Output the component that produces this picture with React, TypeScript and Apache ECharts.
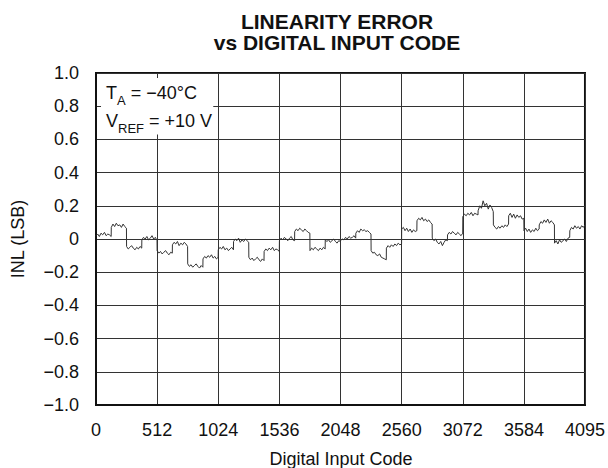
import React, { useEffect, useRef } from 'react';
import * as echarts from 'echarts';

const titleLines = ['LINEARITY ERROR', 'vs DIGITAL INPUT CODE'];
const xAxisTitle = 'Digital Input Code';
const yAxisTitle = 'INL (LSB)';
const conditionLines = [
  ['T', 'A', ' = \u221240\u00B0C'],
  ['V', 'REF', ' = +10 V'],
];

const xMin = 0;
const xMax = 4095;
const xStep = 512;
const yMin = -1;
const yMax = 1;
const yStep = 0.2;

const segmentStarts = [
  0, 128, 256, 384, 512, 640, 768, 896, 1024, 1152, 1280, 1408, 1536, 1664, 1792, 1920,
  2048, 2176, 2304, 2432, 2560, 2688, 2816, 2944, 3072, 3200, 3328, 3456, 3584, 3712, 3840, 3968,
];
const sampleOffsets = [0, 14, 28, 42, 56, 71, 85, 99, 113, 127];
const inlBySegment = [
  [0.02, 0.03, 0.015, 0.035, 0.025, 0.04, 0.02, 0.03, 0.025, 0.015],
  [0.07, 0.09, 0.075, 0.095, 0.08, 0.085, 0.07, 0.09, 0.075, 0.065],
  [-0.045, -0.06, -0.05, -0.04, -0.055, -0.065, -0.05, -0.06, -0.045, -0.055],
  [-0.005, 0.01, 0.0, 0.015, -0.005, 0.005, 0.02, 0.0, 0.01, -0.01],
  [-0.07, -0.085, -0.075, -0.09, -0.08, -0.07, -0.085, -0.095, -0.08, -0.085],
  [-0.035, -0.02, -0.03, -0.015, -0.04, -0.025, -0.035, -0.02, -0.03, -0.045],
  [-0.15, -0.165, -0.155, -0.17, -0.16, -0.15, -0.165, -0.175, -0.16, -0.17],
  [-0.12, -0.105, -0.115, -0.1, -0.11, -0.095, -0.115, -0.105, -0.12, -0.11],
  [-0.065, -0.05, -0.06, -0.045, -0.065, -0.055, -0.07, -0.06, -0.05, -0.065],
  [-0.015, 0.0, -0.01, 0.005, -0.02, -0.005, -0.015, 0.0, -0.01, -0.02],
  [-0.11, -0.125, -0.115, -0.13, -0.12, -0.11, -0.125, -0.135, -0.12, -0.13],
  [-0.075, -0.06, -0.07, -0.055, -0.065, -0.05, -0.07, -0.06, -0.065, -0.075],
  [-0.01, 0.005, -0.005, 0.01, 0.0, -0.01, 0.005, 0.015, -0.005, -0.01],
  [0.045, 0.06, 0.05, 0.065, 0.055, 0.045, 0.06, 0.05, 0.04, 0.035],
  [-0.07, -0.055, -0.065, -0.05, -0.06, -0.07, -0.055, -0.065, -0.05, -0.06],
  [-0.005, -0.015, -0.005, -0.02, -0.01, 0.0, -0.015, -0.025, -0.01, -0.015],
  [-0.01, 0.0, -0.005, 0.01, 0.0, 0.015, 0.005, 0.01, 0.02, 0.005],
  [0.035, 0.05, 0.04, 0.06, 0.05, 0.055, 0.045, 0.05, 0.04, 0.03],
  [-0.07, -0.085, -0.08, -0.095, -0.1, -0.09, -0.11, -0.115, -0.12, -0.125],
  [-0.055, -0.04, -0.05, -0.035, -0.045, -0.03, -0.04, -0.025, -0.035, -0.03],
  [0.06, 0.07, 0.05, 0.065, 0.045, 0.06, 0.04, 0.055, 0.045, 0.05],
  [0.11, 0.125, 0.115, 0.13, 0.11, 0.12, 0.105, 0.115, 0.1, 0.09],
  [0.005, -0.01, 0.0, -0.02, -0.03, -0.015, -0.04, -0.02, -0.005, -0.01],
  [0.025, 0.04, 0.03, 0.045, 0.035, 0.025, 0.04, 0.03, 0.02, 0.035],
  [0.135, 0.15, 0.14, 0.155, 0.145, 0.16, 0.14, 0.155, 0.15, 0.145],
  [0.17, 0.2, 0.185, 0.23, 0.2, 0.215, 0.18, 0.205, 0.19, 0.165],
  [0.085, 0.07, 0.06, 0.075, 0.065, 0.08, 0.07, 0.085, 0.075, 0.09],
  [0.14, 0.155, 0.13, 0.15, 0.125, 0.145, 0.13, 0.14, 0.12, 0.125],
  [0.05, 0.065, 0.045, 0.06, 0.04, 0.055, 0.045, 0.065, 0.05, 0.06],
  [0.085, 0.105, 0.095, 0.115, 0.1, 0.12, 0.095, 0.11, 0.1, 0.085],
  [-0.025, -0.01, -0.03, -0.005, -0.02, -0.01, 0.0, -0.015, 0.005, 0.01],
  [0.05, 0.07, 0.06, 0.08, 0.065, 0.075, 0.06, 0.08, 0.07, 0.085],
];

// white box behind the test conditions (data coordinates)
const conditionBox = [
  [42, 0.97],
  [982, 0.63],
];

const FONT = '"Liberation Sans", Arial, Helvetica, sans-serif';
const INK = '#111';

export default function App() {
  const ref = useRef<HTMLDivElement>(null);

  useEffect(() => {
    if (!ref.current) return;
    const chart = echarts.init(ref.current, undefined, { renderer: 'svg' });

    const points: number[][] = [];
    segmentStarts.forEach((start, i) => {
      sampleOffsets.forEach((off, j) => {
        points.push([start + off, inlBySegment[i][j]]);
      });
    });

    const condText = conditionLines
      .map((l) => `{n|${l[0]}}{s|${l[1]}}{n|${l[2]}}`)
      .join('\n');

    chart.setOption({
      animation: false,
      backgroundColor: '#fff',
      grid: {
        left: 96,
        right: 21,
        top: 73,
        bottom: 63,
        show: true,
        borderColor: INK,
        borderWidth: 2,
        backgroundColor: 'transparent',
      },
      xAxis: {
        type: 'value',
        min: xMin,
        max: xMax,
        interval: xStep,
        axisLine: { show: true, onZero: false, lineStyle: { color: INK, width: 2 } },
        axisTick: { show: false },
        splitLine: { show: true, lineStyle: { color: '#333', width: 1 } },
        axisLabel: {
          fontSize: 18,
          fontFamily: FONT,
          color: INK,
          margin: 16,
          formatter: (v: number) => String(Math.round(v)),
        },
      },
      yAxis: {
        type: 'value',
        min: yMin,
        max: yMax,
        interval: yStep,
        axisLine: { show: true, onZero: false, lineStyle: { color: INK, width: 2 } },
        axisTick: { show: false },
        splitLine: { show: true, lineStyle: { color: '#333', width: 1 } },
        axisLabel: {
          fontSize: 18,
          fontFamily: FONT,
          color: INK,
          margin: 17,
          formatter: (v: number) =>
            Math.abs(v) < 1e-9 ? '0' : v.toFixed(1).replace('-', '\u2212'),
        },
      },
      series: [
        {
          type: 'line',
          data: points,
          showSymbol: false,
          symbol: 'none',
          lineStyle: { color: '#333', width: 1 },
          markArea: {
            silent: true,
            label: { show: false },
            itemStyle: { color: '#fff', opacity: 1 },
            data: [[{ coord: conditionBox[0] }, { coord: conditionBox[1] }]],
          },
        },
      ],
      graphic: [
        {
          type: 'text',
          x: 337,
          y: 11,
          style: {
            text: titleLines.join('\n'),
            fontSize: 21,
            fontWeight: 'bold',
            fontFamily: FONT,
            fill: INK,
            align: 'center',
            verticalAlign: 'top',
            lineHeight: 21,
          },
        },
        {
          type: 'text',
          x: 106,
          y: 79,
          z: 100,
          style: {
            text: condText,
            verticalAlign: 'top',
            rich: {
              n: { fontSize: 18, lineHeight: 28, fontFamily: FONT, fill: INK },
              s: {
                fontSize: 13,
                lineHeight: 16,
                verticalAlign: 'bottom',
                fontFamily: FONT,
                fill: INK,
              },
            },
          },
        },
        {
          type: 'text',
          x: 18,
          y: 239,
          rotation: Math.PI / 2,
          style: {
            text: yAxisTitle,
            fontSize: 18,
            fontFamily: FONT,
            fill: INK,
            align: 'center',
            verticalAlign: 'middle',
          },
        },
        {
          type: 'text',
          x: 341,
          y: 459,
          style: {
            text: xAxisTitle,
            fontSize: 18,
            fontFamily: FONT,
            fill: INK,
            align: 'center',
            verticalAlign: 'middle',
          },
        },
      ],
    });

    return () => chart.dispose();
  }, []);

  return (
    <div
      ref={ref}
      style={{ position: 'fixed', left: 0, top: 0, width: 608, height: 468 }}
    />
  );
}
